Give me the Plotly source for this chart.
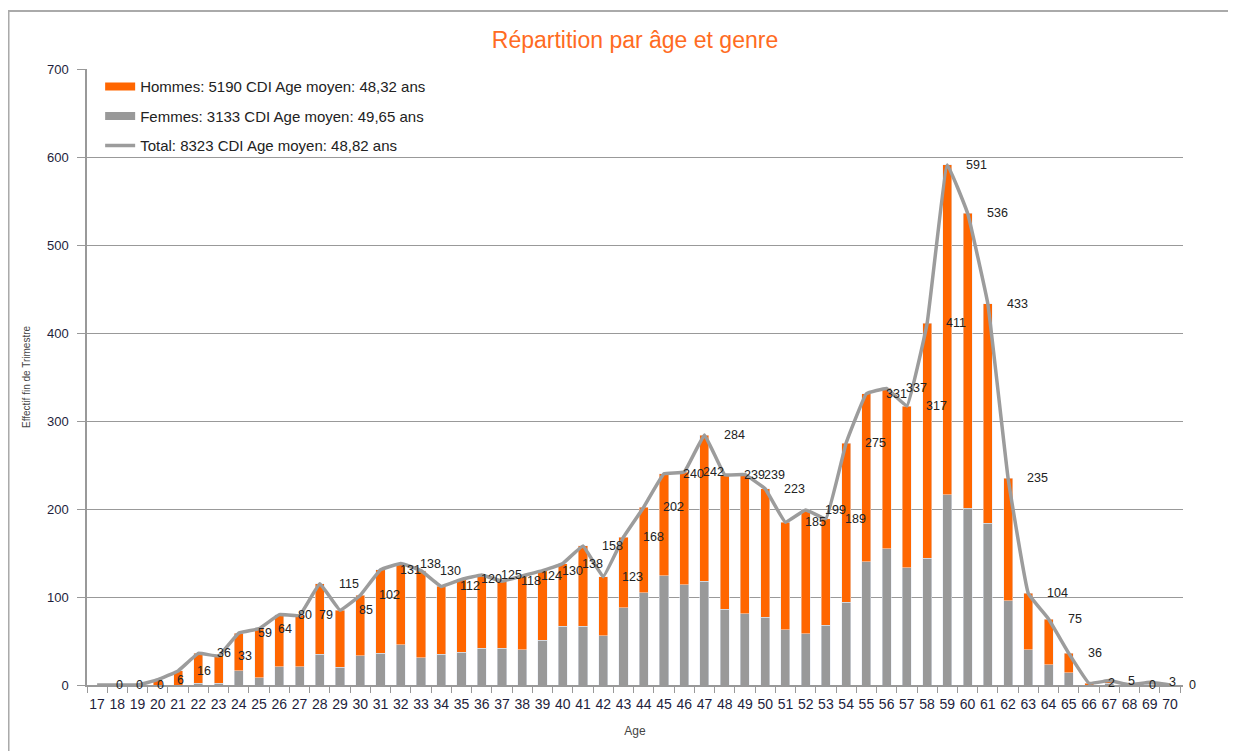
import plotly.graph_objects as go

ages = list(range(17, 71))
totals = [0, 0, 0, 6, 16, 36, 33, 59, 64, 80,
          79, 115, 85, 102, 131, 138, 130, 112, 120, 125,
          118, 124, 130, 138, 158, 123, 168, 202, 240, 242,
          284, 239, 239, 223, 185, 199, 189, 275, 331, 337,
          317, 411, 591, 536, 433, 235, 104, 75, 36, 2,
          5, 0, 3, 0]
femmes = [0, 0, 0, 0, 0, 2, 2, 16, 8, 21,
          21, 35, 20, 33, 36, 46, 31, 35, 37, 42,
          42, 40, 51, 67, 67, 56, 88, 105, 124, 114,
          118, 86, 81, 77, 63, 58, 68, 94, 140, 155,
          133, 144, 216, 201, 184, 96, 40, 23, 14, 0,
          2, 0, 1, 0]
hommes = [t - f for t, f in zip(totals, femmes)]

label_hommes = "Hommes: 5190 CDI Age moyen: 48,32 ans"
label_femmes = "Femmes: 3133 CDI Age moyen: 49,65 ans"
label_total = "Total: 8323 CDI Age moyen: 48,82 ans"
title = "Répartition par âge et genre"
y_title = "Effectif fin de Trimestre"
x_title = "Age"

ORANGE = "#FF6600"
GREY = "#999999"
FONT = "Liberation Sans"

fig = go.Figure()
fig.add_trace(go.Bar(x=ages, y=femmes, marker_color=GREY, width=0.45,
                     showlegend=False, hoverinfo="skip"))
fig.add_trace(go.Bar(x=ages, y=hommes, marker_color=ORANGE, width=0.45,
                     showlegend=False, hoverinfo="skip"))
fig.add_trace(go.Scatter(x=ages, y=totals, mode="lines",
                         line=dict(color="#9c9c9c", width=3.5, shape="spline", smoothing=0.25),
                         showlegend=False, hoverinfo="skip"))
# legend entries
fig.add_trace(go.Scatter(x=[None], y=[None], mode="lines", name=label_hommes,
                         line=dict(color=ORANGE, width=8), legendgroup="a"))
fig.add_trace(go.Scatter(x=[None], y=[None], mode="lines", name=label_femmes,
                         line=dict(color=GREY, width=8), legendgroup="b"))
fig.add_trace(go.Scatter(x=[None], y=[None], mode="lines", name=label_total,
                         line=dict(color="#9c9c9c", width=3.5), legendgroup="c"))

# data labels (offset by about one category, as in the original chart)
annotations = [dict(x=a + 0.5, y=t, xref="x", yref="y", xshift=7, xanchor="left",
                    text=str(t), showarrow=False,
                    font=dict(family=FONT, size=12.5, color="#222222"))
               for a, t in zip(ages, totals)]

fig.update_layout(
    width=1228, height=743,
    margin=dict(l=79, r=53, t=61, b=66),
    paper_bgcolor="white", plot_bgcolor="white",
    barmode="stack",
    font=dict(family=FONT, color="#222"),
    title=dict(text=title, x=0.5, xref="paper", xanchor="center", y=0.957, yanchor="middle",
               font=dict(family=FONT, size=23, color="#FF6B22")),
    legend=dict(x=0.012, y=0.998, xanchor="left", yanchor="top",
                bgcolor="rgba(0,0,0,0)", font=dict(family=FONT, size=15, color="#222"),
                itemwidth=30, tracegroupgap=7, traceorder="grouped"),
    annotations=annotations,
    shapes=[dict(type="rect", xref="paper", yref="paper",
                 x0=-0.0716, x1=1.2, y0=-0.2, y1=1.094,
                 line=dict(color="#aaaaaa", width=2), layer="below")],
)
fig.update_xaxes(
    range=[16.5, 70.64], tickmode="array", tickvals=ages, ticktext=[str(a) for a in ages],
    ticks="", showgrid=False, zeroline=False, ticklabelstandoff=5,
    showline=True, linecolor="#999999", linewidth=1.5,
    tickfont=dict(family=FONT, size=14, color="#1e1e3c"),
    title=dict(text=x_title, font=dict(family=FONT, size=12, color="#444"), standoff=16),
    minor=dict(tickmode="linear", tick0=16.5, dtick=1, ticks="outside", ticklen=6,
               tickcolor="#999999", showgrid=False),
)
fig.update_yaxes(
    range=[0, 700], tickvals=[0, 100, 200, 300, 400, 500, 600, 700],
    ticks="outside", ticklen=8, tickcolor="#999999", ticklabelstandoff=6,
    showgrid=True, gridcolor="#999999", gridwidth=1.2, zeroline=False,
    showline=True, linecolor="#999999", linewidth=1.5,
    tickfont=dict(family=FONT, size=13, color="#1e1e3c"),
    title=dict(text=y_title, font=dict(family=FONT, size=10, color="#444"), standoff=14),
)

fig.write_html("out.html")
